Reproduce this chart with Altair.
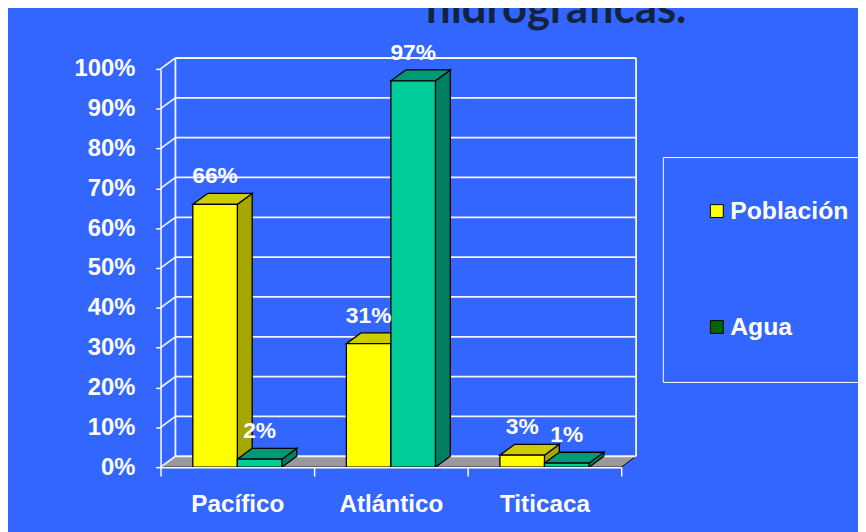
import json
import altair as alt
import pandas as pd

# ---------------- data ----------------
categories = ["Pacífico", "Atlántico", "Titicaca"]
series = ["Población", "Agua"]
poblacion = [66, 31, 3]
agua = [2, 97, 1]
y_ticks = [0, 10, 20, 30, 40, 50, 60, 70, 80, 90, 100]
title_text = "hidrográficas."

# ---------------- geometry / style ----------------
W, H = 465, 402            # plot area (front plane)
X_MAX = len(categories)    # x domain 0..3, one unit per category
DX = 15 * X_MAX / W        # 3D depth, in x units (15 px)
DY = 11 * 100 / H          # 3D depth, in y units (11 px)
HALF = 0.29                # width of one bar, in x units
BG = "#3366FF"
FONT = "Liberation Sans"

face = {
    "Población": {"front": "#FFFF00", "top": "#CCCC00", "side": "#A6A600", "legend": "#FFFF00"},
    "Agua": {"front": "#00CC99", "top": "#009977", "side": "#007F60", "legend": "#006600"},
}

xs = alt.Scale(domain=[0, X_MAX], nice=False, zero=False)
ys = alt.Scale(domain=[0, 100], nice=False, zero=False)

# bar table
values = {"Población": poblacion, "Agua": agua}
rows = []
for i, c in enumerate(categories):
    for j, s in enumerate(series):
        x0 = i + 0.5 - HALF + j * HALF
        rows.append(dict(cat=c, series=s, value=values[s][i], x0=x0, x1=x0 + HALF,
                         xc=x0 + HALF / 2, label=f"{values[s][i]}%", bar=f"{c}-{s}"))
bars = pd.DataFrame(rows)

side_rows, top_rows = [], []
for r in rows:
    for t in (0, 1):
        side_rows.append(dict(bar=r["bar"], series=r["series"], x=r["x1"] + t * DX,
                              y=r["value"] + t * DY, y2=t * DY))
        top_rows.append(dict(bar=r["bar"], series=r["series"], y=r["value"] + t * DY,
                             x=r["x0"] + t * DX, x2=r["x1"] + t * DX))
side_df = pd.DataFrame(side_rows)
top_df = pd.DataFrame(top_rows)

floor_df = pd.DataFrame({"y": [0, DY], "x": [0, DX], "x2": [X_MAX, X_MAX + DX]})
grid_df = pd.DataFrame({"v": y_ticks})
grid_df["vb"] = grid_df["v"] + DY
grid_df["x0"] = 0.0
grid_df["xb"] = DX
grid_df["xe"] = X_MAX + DX
wall_df = pd.DataFrame({"x": [DX, X_MAX + DX], "y": [DY, DY], "y2": [100 + DY, 100 + DY]})
legend_df = pd.DataFrame({"series": series})

# ---------------- layers ----------------
x_tick_axis = alt.Axis(values=list(range(X_MAX + 1)), labels=False, tickSize=9, tickColor="white",
                       tickWidth=1.5, domainColor="white", domainWidth=1.5, grid=False, title=None,
                       orient="bottom", zindex=1)
x_label_axis = alt.Axis(values=[i + 0.5 for i in range(X_MAX)],
                        labelExpr=f"{json.dumps(categories, ensure_ascii=False)}[floor(datum.value)]",
                        ticks=False, tickSize=0, domain=False, grid=False, title=None, orient="bottom",
                        labelFont=FONT, labelFontSize=24.5, labelFontWeight="bold", labelColor="white",
                        labelPadding=38, labelBaseline="middle", zindex=1)
y_axis = alt.Axis(values=y_ticks, labelExpr="datum.value + '%'", tickSize=5, tickColor="white",
                  tickWidth=1.5, domainColor="white", domainWidth=1.5, grid=False, title=None,
                  labelFont=FONT, labelFontSize=24, labelFontWeight="bold", labelColor="white",
                  labelPadding=21, zindex=1)

floor = alt.Chart(floor_df).mark_area(orient="horizontal", color="#999999", stroke="black",
                                      strokeWidth=1).encode(
    y=alt.Y("y:Q", scale=ys, axis=None),
    x=alt.X("x:Q", scale=xs, axis=x_tick_axis),
    x2="x2:Q",
)

grid = alt.Chart(grid_df).mark_rule(color="#F4F6FF", strokeWidth=1.8).encode(
    x=alt.X("xb:Q", scale=xs, axis=None), x2="xe:Q",
    y=alt.Y("vb:Q", scale=ys, axis=None),
)
connectors = alt.Chart(grid_df).mark_rule(color="#F4F6FF", strokeWidth=1.6).encode(
    x=alt.X("x0:Q", scale=xs, axis=None), x2="xb:Q",
    y=alt.Y("v:Q", scale=ys, axis=None), y2="vb:Q",
)
walls = alt.Chart(wall_df).mark_rule(color="#F4F6FF", strokeWidth=1.8).encode(
    x=alt.X("x:Q", scale=xs, axis=None),
    y=alt.Y("y:Q", scale=ys, axis=None), y2="y2:Q",
)


def side_layer(s):
    return alt.Chart(side_df).transform_filter(alt.datum.series == s).mark_area(
        orient="vertical", color=face[s]["side"], stroke="black", strokeWidth=1.3
    ).encode(
        x=alt.X("x:Q", scale=xs, axis=None),
        y=alt.Y("y:Q", scale=ys, axis=None), y2="y2:Q",
        detail="bar:N",
    )


def top_layer(s):
    return alt.Chart(top_df).transform_filter(alt.datum.series == s).mark_area(
        orient="horizontal", color=face[s]["top"], stroke="black", strokeWidth=1.3
    ).encode(
        y=alt.Y("y:Q", scale=ys, axis=None),
        x=alt.X("x:Q", scale=xs, axis=None), x2="x2:Q",
        detail="bar:N",
    )


front_p = alt.Chart(bars).transform_filter(alt.datum.series == "Población").mark_rect(
    color=face["Población"]["front"], stroke="black", strokeWidth=1.3
).encode(
    x=alt.X("x0:Q", scale=xs, axis=x_label_axis), x2="x1:Q",
    y=alt.Y("value:Q", scale=ys, axis=y_axis), y2=alt.datum(0),
)
front_a = alt.Chart(bars).transform_filter(alt.datum.series == "Agua").mark_rect(
    color=face["Agua"]["front"], stroke="black", strokeWidth=1.3
).encode(
    x=alt.X("x0:Q", scale=xs, axis=None), x2="x1:Q",
    y=alt.Y("value:Q", scale=ys, axis=None), y2=alt.datum(0),
)

labels = alt.Chart(bars).mark_text(
    font=FONT, fontSize=23, fontWeight="bold", color="white", baseline="middle", align="center", dy=-28
).encode(
    x=alt.X("xc:Q", scale=xs, axis=None),
    y=alt.Y("value:Q", scale=ys, axis=None),
    text="label:N",
)

legend_layer = alt.Chart(legend_df).mark_point(shape="square", filled=True, opacity=0).encode(
    fill=alt.Fill("series:N", scale=alt.Scale(domain=series, range=[face[s]["legend"] for s in series]),
                  legend=alt.Legend(
                      title=None, orient="none", legendX=507, legendY=89, padding=42,
                      strokeColor="white", symbolType="square", symbolSize=169,
                      symbolStrokeColor="black", symbolStrokeWidth=1, symbolOpacity=1,
                      labelFont=FONT, labelFontSize=25, labelFontWeight="bold", labelColor="white",
                      labelOffset=1, rowPadding=91, labelLimit=0, direction="vertical")),
)

chart = alt.layer(
    floor, grid, connectors, walls,
    side_layer("Población"), top_layer("Población"),
    side_layer("Agua"), top_layer("Agua"),
    front_p, front_a, labels, legend_layer,
).resolve_axis(x="independent", y="independent").properties(
    width=W, height=H,
    autosize=alt.AutoSizeParams(type="none"),
    padding={"left": 154, "top": 59, "right": 239, "bottom": 63},
    background=BG,
    title=alt.TitleParams(text=title_text, font="Lato", fontSize=44, fontWeight="bold",
                          color="#13233F", anchor="start", frame="group", dx=268, dy=25,
                          baseline="alphabetic", offset=0),
).configure_view(stroke=None)

chart.save("out.html", embed_options={"renderer": "svg", "actions": False})
